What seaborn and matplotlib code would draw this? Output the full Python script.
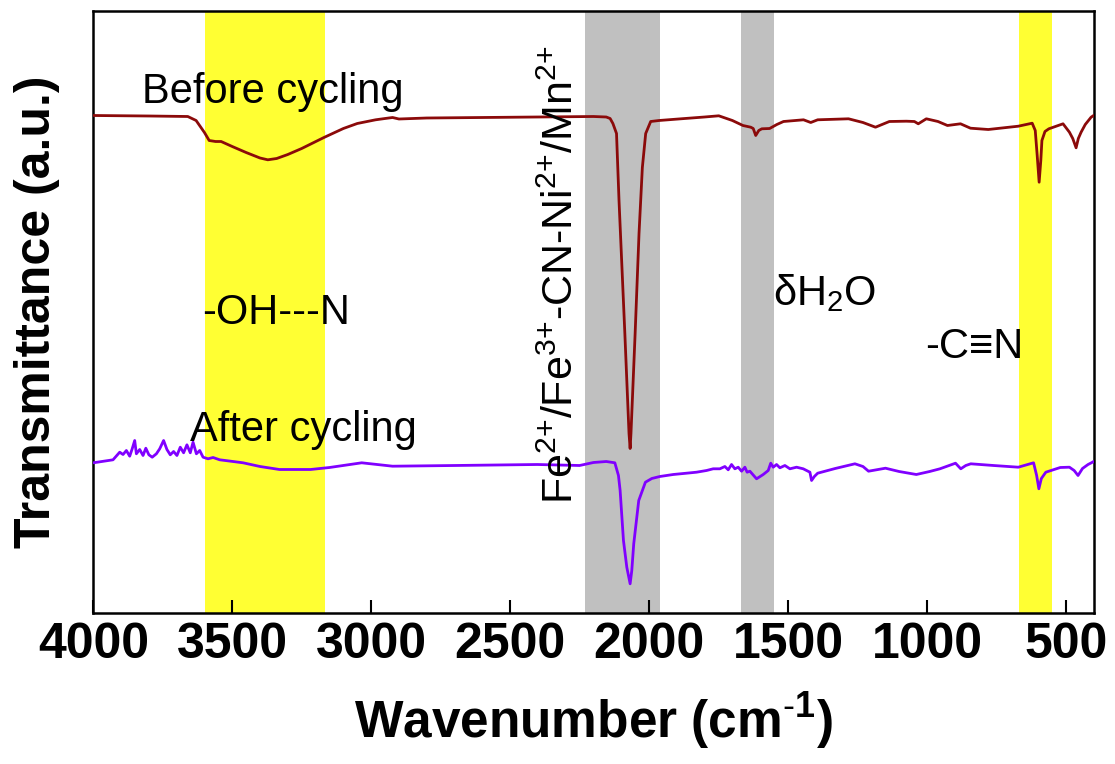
import numpy as np
import pandas as pd
import matplotlib
matplotlib.use("Agg")
import matplotlib.pyplot as plt
import seaborn as sns

# ---------------- data ----------------
# heights are in arbitrary units (a.u.); larger = higher on the plot
before_wn = [4000, 3800, 3660, 3630, 3600, 3583, 3560, 3540, 3500, 3450, 3400, 3372, 3340,
             3300, 3250, 3170, 3100, 3050, 2984, 2950, 2923, 2900, 2800, 2600, 2400, 2200,
             2154, 2140, 2130, 2117, 2108, 2087, 2072, 2068, 2065, 2050, 2036, 2024, 2012,
             1994, 1964, 1885, 1800, 1749, 1700, 1662, 1634, 1625, 1616, 1605, 1594, 1566,
             1540, 1516, 1444, 1418, 1393, 1282, 1230, 1185, 1135, 1074, 1045, 1031, 1002,
             960, 926, 879, 843, 779, 671, 621, 610, 603, 596, 590, 586, 575, 561, 510, 487,
             475, 463, 455, 445, 430, 409, 400]
before_px = [115, 115.5, 116, 120, 132, 140, 141, 141, 146, 152, 157.5, 159.3, 158,
             154, 148, 137, 128, 123, 119.3, 118, 117, 118.5, 117.5, 117, 116.5, 116,
             116.5, 118, 123, 133, 200, 333, 433, 448, 433, 333, 233, 167, 133,
             121, 120, 118.3, 116.5, 115.3, 120, 125, 126.7, 128, 135, 130, 128.3, 128,
             124, 121, 119.3, 122, 119.3, 118.3, 122, 126.7, 121, 120.7, 121, 123.3, 118.3,
             121, 125, 123.3, 127.7, 129, 125.7, 122.7, 130, 155, 181.7, 160, 140, 131, 128.3, 123.3, 131.7,
             138, 147.3, 138, 131.7, 124, 116.7, 115]

after_wn = [4000, 3929, 3905, 3893, 3881, 3869, 3860, 3851, 3845, 3833, 3821, 3811, 3800,
            3788, 3773, 3761, 3747, 3735, 3723, 3711, 3699, 3687, 3675, 3663, 3651, 3641,
            3629, 3617, 3605, 3587, 3569, 3545, 3497, 3461, 3400, 3330, 3218, 3150, 3034,
            2923, 2700, 2402, 2250, 2200, 2154, 2123, 2110, 2104, 2092, 2080, 2068, 2062,
            2055, 2037, 2013, 1990, 1961, 1913, 1865, 1829, 1793, 1769, 1745, 1727, 1715,
            1703, 1691, 1679, 1667, 1655, 1647, 1637, 1613, 1589, 1571, 1562, 1553, 1541,
            1529, 1511, 1493, 1469, 1445, 1421, 1415, 1405, 1393, 1330, 1259, 1230, 1210,
            1149, 1100, 1038, 990, 953, 897, 878, 860, 842, 760, 671, 616, 605, 597, 588,
            572, 520, 487, 470, 456, 440, 420, 408, 400]
after_px = [462.3, 459.3, 451.7, 454, 450, 455.7, 448.3, 440, 453.3, 449, 455, 447.7, 454.3,
            456.7, 453.3, 448.3, 440, 449, 454.3, 451, 455, 446.7, 452.3, 444.3, 452.3, 441.7,
            453.3, 450, 456.7, 458.3, 457, 459.3, 461, 462.3, 466, 469, 469, 467, 462.3,
            465.7, 465, 464, 465, 462, 461, 462.3, 475, 490, 540, 566.7, 583.3, 570,
            543.3, 500, 481.7, 478, 476, 474, 472.7, 471.7, 470, 468.3, 468.3, 466, 469.3,
            464, 468.3, 466.7, 470.7, 466.7, 471.7, 470.7, 478.3, 474, 470, 462.7, 466.7, 464,
            467.3, 465, 468.3, 466.7, 468.3, 471.7, 480, 476, 472.7, 468, 463.3, 466, 470.7,
            467.7, 471, 474, 471, 468.3, 462.7, 468.3, 465, 463.3, 465, 466.7, 462.3, 475, 488.3, 478,
            471.7, 467, 466.7, 470, 475, 468, 464, 462.3, 461]

BASE = 612  # picture row of the bottom spine, used to turn rows into heights
before_val = [BASE - v for v in before_px]
after_val = [BASE - v for v in after_px]

yellow_bands = [(3598, 3167), (668, 549)]
grey_bands = [(2230, 1962), (1670, 1551)]

series_names = ["Before cycling", "After cycling"]
series_colors = ["#8B0A0A", "#8000FF"]

df = pd.concat([
    pd.DataFrame({"wn": before_wn, "T": before_val, "s": series_names[0]}),
    pd.DataFrame({"wn": after_wn, "T": after_val, "s": series_names[1]}),
])

# ---------------- style ----------------
sns.set_style("white")
plt.rcParams["font.family"] = ["Liberation Sans", "DejaVu Sans"]
plt.rcParams["mathtext.fontset"] = "custom"
plt.rcParams["mathtext.rm"] = "Liberation Sans"
plt.rcParams["mathtext.it"] = "Liberation Sans:italic"
plt.rcParams["mathtext.bf"] = "Liberation Sans:bold"
plt.rcParams["text.color"] = "black"
plt.rcParams["axes.labelcolor"] = "black"
plt.rcParams["xtick.color"] = "black"
plt.rcParams["ytick.color"] = "black"

fig = plt.figure(figsize=(11.15, 7.64), dpi=100)
ax = fig.add_axes([93.3 / 1115, (764 - 612.5) / 764, (1093.6 - 93.3) / 1115, (612.5 - 11) / 764])

for a, b in yellow_bands:
    ax.axvspan(a, b, color="#FFFF33", lw=0, zorder=0)
for a, b in grey_bands:
    ax.axvspan(a, b, color="#C0C0C0", lw=0, zorder=0)

sns.lineplot(data=df, x="wn", y="T", hue="s", palette=dict(zip(series_names, series_colors)),
             estimator=None, sort=False, lw=2.0, legend=False, ax=ax, zorder=3)

ax.set_xlim(4000, 400)
ax.set_ylim(0, 601.5)
ax.set_xticks([4000, 3500, 3000, 2500, 2000, 1500, 1000, 500])
ax.set_yticks([])
ax.tick_params(axis="x", direction="in", length=9.5, width=1.5, pad=7,
               labelsize=36, bottom=True, top=False)
for lab in ax.get_xticklabels():
    lab.set_fontweight("bold")
for sp in ax.spines.values():
    sp.set_linewidth(1.8)
    sp.set_color("black")

ax.set_xlabel("Wavenumber (cm$^{\\text{-}\\mathbf{1}}$)", fontsize=37, fontweight="bold", labelpad=16)
ax.set_ylabel("Transmittance (a.u.)", fontsize=36, fontweight="bold", labelpad=24)

tsize = 30
ax.text(3825, BASE - 103, "Before cycling", fontsize=tsize, ha="left", va="baseline")
ax.text(3652, BASE - 440, "After cycling", fontsize=tsize, ha="left", va="baseline")
ax.text(3609, BASE - 324, "-OH---N", fontsize=tsize, ha="left", va="baseline")
ax.text(1554, BASE - 305, "\u03b4H$_2$O", fontsize=tsize, ha="left", va="baseline")
ax.text(1007, BASE - 357, "-C\u2261N", fontsize=tsize, ha="left", va="baseline")
ax.text(2274, BASE - 503,
        "Fe$^{\\text{2+}}$/Fe$^{\\text{3+}}$-CN-Ni$^{\\text{2+}}$/Mn$^{\\text{2+}}$",
        fontsize=31, rotation=90, ha="left", va="baseline", rotation_mode="anchor")

fig.savefig("out.png", dpi=100)
